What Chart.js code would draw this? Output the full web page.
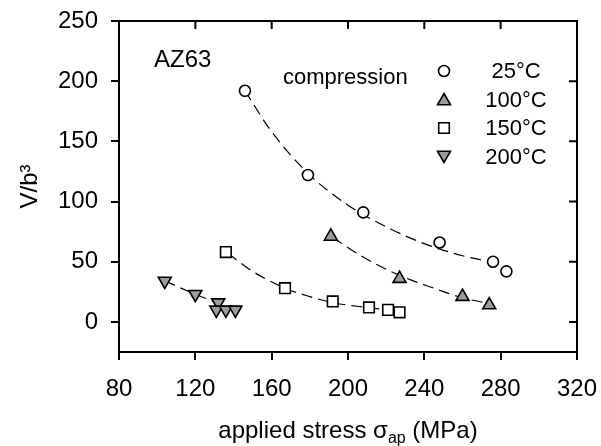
<!DOCTYPE html>
<html>
<head>
<meta charset="utf-8">
<script src="https://cdn.jsdelivr.net/npm/chart.js@4.4.1/dist/chart.umd.min.js"></script>
<style>
    html, body { margin: 0; padding: 0; background: #fff; }
    #wrap { width: 601px; height: 446px; }
</style>
</head>
<body>
<div id="wrap"><canvas id="azChart"></canvas></div>
<script>
// points: applied stress (MPa) vs V/b^3
var stress25 = [146, 179, 208, 248, 276, 283];
var vol25 = [192, 122, 91, 66, 50, 42];
var stress100 = [191, 227, 260, 274];
var vol100 = [71, 36, 21, 14];
var stress150 = [136, 167, 192, 211, 221, 227];
var vol150 = [58, 28, 17, 12, 10, 8];
var stress200 = [104, 120, 132, 131, 136, 141];
var vol200 = [34, 23, 16, 10, 10, 10];

// dashed trend lines, traced by eye
var fitX25 = [146, 160, 180, 200, 220, 240, 260, 281];
var fitY25 = [192, 158, 122, 97, 79, 65, 55, 48];
var fitX100 = [192, 210, 228, 245, 260, 275];
var fitY100 = [70, 52, 38, 28, 20, 15];
var fitX150 = [137, 150, 167, 180, 192, 210, 227];
var fitY150 = [57, 42, 28, 21, 16, 12, 9];
var fitX200 = [104, 120, 133];
var fitY200 = [34, 23, 15];

var xTicks = [80, 120, 160, 200, 240, 280, 320];
var yTicks = [0, 50, 100, 150, 200, 250];
var seriesLabels = ['25°C', '100°C', '150°C', '200°C'];

var GREY = '#9c9c9c';

function pts(xs, ys) {
    return xs.map(function (x, i) { return { x: x, y: ys[i] }; });
}

function markers(label, xs, ys, style, fill, radius, rotation) {
    return {
        label: label,
        data: pts(xs, ys),
        showLine: false,
        pointStyle: style,
        pointRadius: radius,
        pointRotation: rotation || 0,
        pointBackgroundColor: fill,
        pointBorderColor: '#000',
        pointBorderWidth: 1.6,
        order: 0
    };
}

function fitLine(xs, ys) {
    return {
        label: '',
        data: pts(xs, ys),
        showLine: true,
        pointRadius: 0,
        borderColor: '#000',
        borderWidth: 1.2,
        borderDash: [11, 6],
        cubicInterpolationMode: 'monotone',
        order: 5
    };
}

var sets = [
    markers(seriesLabels[0], stress25, vol25, 'circle', '#fff', 5.5),
    markers(seriesLabels[1], stress100, vol100, 'triangle', GREY, 7.5),
    markers(seriesLabels[2], stress150, vol150, 'rect', '#fff', 7.5),
    markers(seriesLabels[3], stress200, vol200, 'triangle', GREY, 7.5, 180),
    fitLine(fitX25, fitY25),
    fitLine(fitX100, fitY100),
    fitLine(fitX150, fitY150),
    fitLine(fitX200, fitY200)
];

function noOverflow(axis) {
    axis.paddingTop = 0;
    axis.paddingBottom = 0;
    axis.paddingLeft = 0;
    axis.paddingRight = 0;
}

// top/right frame with inward ticks, titles, legend and notes
var decorations = {
    id: 'decorations',
    afterDraw: function (chart) {
        var ctx = chart.ctx, a = chart.chartArea;
        var xs = chart.scales.x, ys = chart.scales.y;
        ctx.save();
        ctx.strokeStyle = '#000';
        ctx.lineWidth = 2;
        ctx.beginPath();
        ctx.moveTo(a.left - 1, a.top);
        ctx.lineTo(a.right, a.top);
        ctx.lineTo(a.right, a.bottom + 1);
        xTicks.forEach(function (v) {
            var px = xs.getPixelForValue(v);
            ctx.moveTo(px, a.top);
            ctx.lineTo(px, a.top + 8);
        });
        yTicks.forEach(function (v) {
            var py = ys.getPixelForValue(v);
            ctx.moveTo(a.right, py);
            ctx.lineTo(a.right - 8, py);
        });
        ctx.stroke();

        ctx.fillStyle = '#000';
        ctx.font = '24px "Liberation Sans", Arial, sans-serif';
        ctx.textBaseline = 'alphabetic';
        ctx.textAlign = 'left';
        ctx.fillText('AZ63', 154, 67);
        ctx.font = '22px "Liberation Sans", Arial, sans-serif';
        ctx.fillText('compression', 283, 84);

        // legend
        var markerSets = chart.data.datasets.slice(0, 4);
        markerSets.forEach(function (ds, i) {
            var y = 71 + i * 28.5;
            ctx.fillStyle = ds.pointBackgroundColor;
            ctx.strokeStyle = '#000';
            ctx.lineWidth = ds.pointBorderWidth;
            Chart.helpers.drawPoint(ctx, {
                pointStyle: ds.pointStyle,
                radius: ds.pointRadius,
                rotation: ds.pointRotation,
                borderWidth: ds.pointBorderWidth
            }, 444, y + (ds.pointStyle === 'triangle' ? (ds.pointRotation ? -1.5 : 1.5) : 0));
            ctx.fillStyle = '#000';
            ctx.font = '22px "Liberation Sans", Arial, sans-serif';
            ctx.textAlign = 'center';
            ctx.textBaseline = 'middle';
            ctx.fillText(ds.label, 516, y + 1);
        });

        // x title with subscript
        var cx = (a.left + a.right) / 2;
        var big = '24px "Liberation Sans", Arial, sans-serif';
        var small = '16px "Liberation Sans", Arial, sans-serif';
        var p1 = 'applied stress σ', p2 = 'ap', p3 = ' (MPa)';
        ctx.textBaseline = 'alphabetic';
        ctx.textAlign = 'left';
        ctx.font = big;
        var w1 = ctx.measureText(p1).width, w3 = ctx.measureText(p3).width;
        ctx.font = small;
        var w2 = ctx.measureText(p2).width;
        var x0 = cx - (w1 + w2 + w3) / 2;
        ctx.font = big;
        ctx.fillText(p1, x0, 438);
        ctx.font = small;
        ctx.fillText(p2, x0 + w1, 443);
        ctx.font = big;
        ctx.fillText(p3, x0 + w1 + w2, 438);

        // y title
        ctx.translate(37, (a.top + a.bottom) / 2);
        ctx.rotate(-Math.PI / 2);
        ctx.textAlign = 'center';
        ctx.fillText('V/b³', 0, 0);
        ctx.restore();
    }
};

Chart.defaults.font.family = '"Liberation Sans", Arial, sans-serif';
Chart.defaults.color = '#000';

var ctx = document.getElementById('azChart').getContext('2d');
var azChart = new Chart(ctx, {
    type: 'scatter',
    data: { datasets: sets },
    options: {
        responsive: true,
        maintainAspectRatio: false,
        animation: false,
        layout: { padding: { top: 21, right: 24, left: 0, bottom: 0 } },
        plugins: {
            legend: { display: false },
            tooltip: { enabled: false }
        },
        scales: {
            x: {
                type: 'linear',
                min: 80,
                max: 320,
                afterBuildTicks: function (axis) {
                    axis.ticks = xTicks.map(function (v) { return { value: v }; });
                },
                afterFit: function (axis) { axis.height = 94; noOverflow(axis); },
                grid: { drawOnChartArea: false, color: '#000', lineWidth: 2, tickLength: 8 },
                border: { color: '#000', width: 2 },
                ticks: { font: { size: 24 }, padding: 15, maxRotation: 0 }
            },
            y: {
                type: 'linear',
                min: -25,
                max: 250,
                afterBuildTicks: function (axis) {
                    axis.ticks = yTicks.map(function (v) { return { value: v }; });
                },
                afterFit: function (axis) { axis.width = 119; noOverflow(axis); },
                grid: { drawOnChartArea: false, color: '#000', lineWidth: 2, tickLength: 8 },
                border: { color: '#000', width: 2 },
                ticks: { font: { size: 24 }, padding: 13 }
            }
        }
    },
    plugins: [decorations]
});
</script>
</body>
</html>
